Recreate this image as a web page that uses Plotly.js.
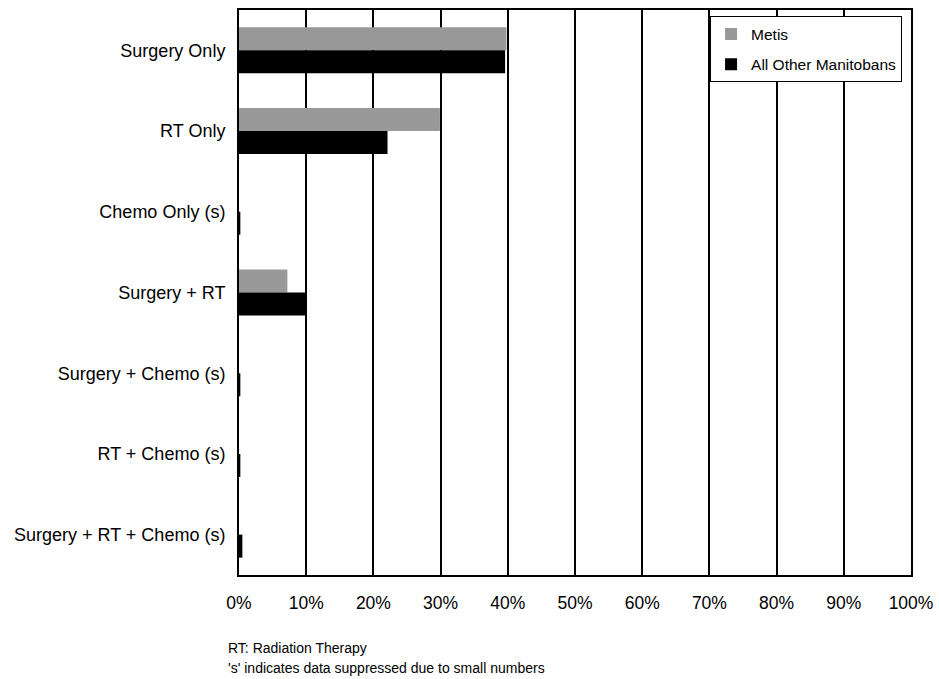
<!DOCTYPE html>
<html>
<head>
<meta charset="utf-8">
<script src="https://cdn.plot.ly/plotly-3.0.1.min.js"></script>
<style>html,body{margin:0;padding:0;background:#fff;}#chart{width:939px;height:679px;}</style>
</head>
<body>
<div id="chart"></div>
<script>
const categories = ["Surgery Only", "RT Only", "Chemo Only (s)", "Surgery + RT", "Surgery + Chemo (s)", "RT + Chemo (s)", "Surgery + RT + Chemo (s)"];
const metisValues = [39.8, 29.9, 0, 7.2, 0, 0, 0];
const otherValues = [39.6, 22.1, 0.2, 10.0, 0.2, 0.2, 0.5];
const seriesNames = ["Metis", "All Other Manitobans"];
const xTickVals = [0,10,20,30,40,50,60,70,80,90,100];
const xTickText = ["0%","10%","20%","30%","40%","50%","60%","70%","80%","90%","100%"];
const footnotes = ["RT: Radiation Therapy", "'s' indicates data suppressed due to small numbers"];

const FONT = "Liberation Sans, Arial, sans-serif";

const traces = [
  {type:'bar', orientation:'h', name:seriesNames[0], legendgroup:'a', y:categories, x:metisValues, marker:{color:'#999999', line:{width:0}}},
  {type:'bar', orientation:'h', name:seriesNames[1], legendgroup:'b', y:categories, x:otherValues, marker:{color:'#000000', line:{width:0}}}
];

const layout = {
  width:939, height:679,
  margin:{l:239, r:28, t:10, b:104},
  paper_bgcolor:'#fff', plot_bgcolor:'#fff',
  font:{family:FONT, color:'#000', size:18},
  barmode:'group', bargap:0.43, bargroupgap:0,
  showlegend:true,
  legend:{x:0.701, y:0.9885, xanchor:'left', yanchor:'top', bgcolor:'#fff', bordercolor:'#000', borderwidth:1,
          font:{family:FONT, size:15.5, color:'#000'}, traceorder:'grouped', tracegroupgap:7, itemwidth:30},
  xaxis:{range:[0,100], tickvals:xTickVals, ticktext:xTickText, showgrid:true, gridcolor:'#000', gridwidth:2,
         zeroline:false, showline:true, linecolor:'#000', linewidth:2, mirror:true, ticks:'', ticklabelstandoff:11,
         tickfont:{family:FONT, size:17.5, color:'#000'}, fixedrange:true},
  yaxis:{autorange:'reversed', type:'category', showgrid:false, zeroline:false, showline:true, linecolor:'#000', linewidth:2,
         mirror:true, ticks:'', ticklabelstandoff:8, tickfont:{family:FONT, size:18, color:'#000'}},
  annotations: footnotes.map((t,i)=>({text:t, xref:'paper', yref:'paper', x:-13/672, y:(575-648-20*i)/565.5, xanchor:'left', yanchor:'middle',
      showarrow:false, font:{family:FONT, size:14, color:'#000'}}))
};

Plotly.newPlot('chart', traces, layout, {displayModeBar:false, staticPlot:true});
</script>
</body>
</html>
